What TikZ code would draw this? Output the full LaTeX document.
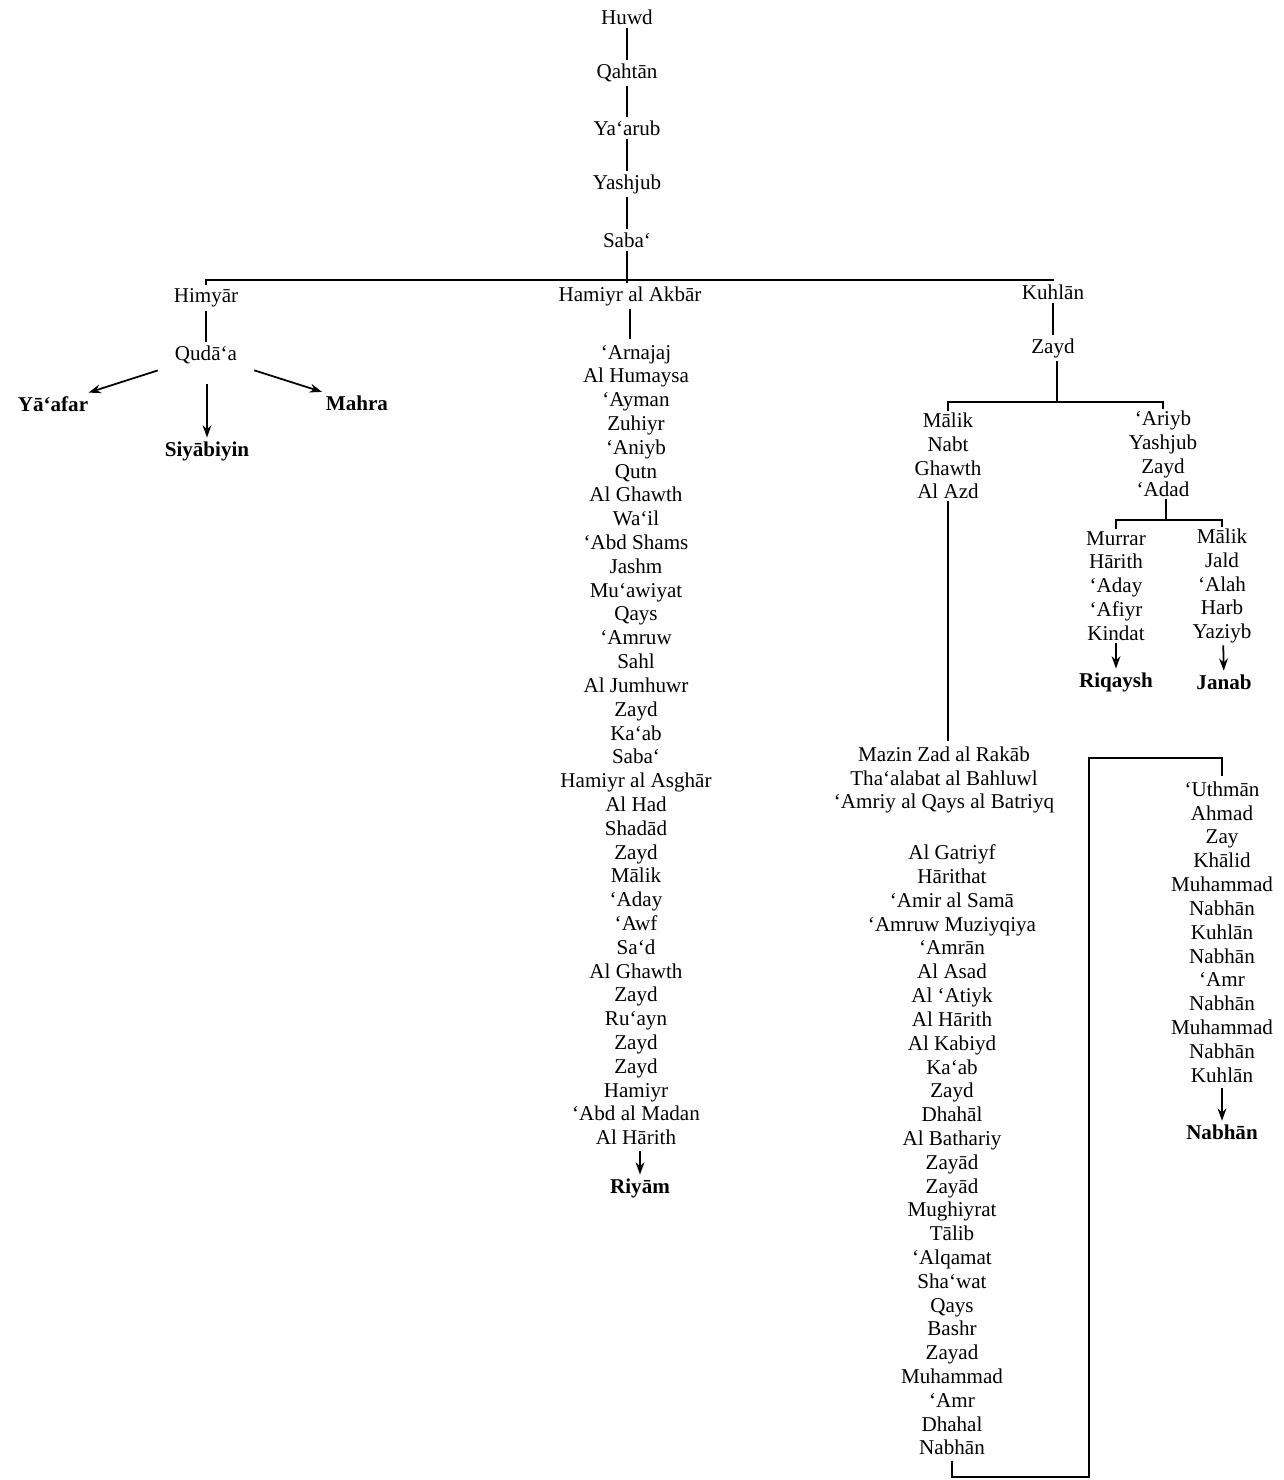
\documentclass[tikz,border=0pt]{standalone}
\usepackage{fontspec}
\setmainfont{Liberation Serif}
\usetikzlibrary{arrows.meta}

\begin{document}
\begin{tikzpicture}[
    x=0.02cm, y=-0.02cm,
    >={Stealth[length=7pt, width=5pt]},
    every node/.style={font=\fontsize{12}{13.55}\selectfont, inner sep=2pt},
    namecol/.style={align=center, inner sep=3pt},
    tribe/.style={font=\fontsize{12}{13.55}\selectfont\bfseries},
    link/.style={line width=1pt},
]
\useasboundingbox (0,0) rectangle (1284,1480);

% ============================================================
% Trunk: Huwd down to Saba`
% ============================================================
\node (huwd)    at (627,17)  {Huwd};
\node (qahtan)  at (627,73)  {Qahtān};
\node (yaarub)  at (627,128) {Ya`arub};
\node (yashjub) at (627,184) {Yashjub};
\node (saba)    at (627,240) {Saba`};
\draw[link] (huwd) -- (qahtan);
\draw[link] (qahtan) -- (yaarub);
\draw[link] (yaarub) -- (yashjub);
\draw[link] (yashjub) -- (saba);

% Three sons of Saba`
\coordinate (sababar) at (627,280);
\node (himyar) at (206,298) {Himyār};
\node (akbar)  at (630,296) {Hamiyr al Akbār};
\node (kuhlan) at (1053,292) {Kuhlān};
\draw[link] (saba) -- (saba |- akbar.north);
\draw[link] (himyar.north) |- (sababar) -| (kuhlan.north);

% ============================================================
% Branch 1: Himyar
% ============================================================
\node (qudaa) at (206,355) {Qudā`a};
\draw[link] (himyar) -- (qudaa);
\node[tribe] (yaafar)    at (53,404)  {Yā`afar};
\node[tribe] (siyabiyin) at (207,451) {Siyābiyin};
\node[tribe] (mahra)     at (357,403) {Mahra};
\draw[link, ->, shorten <=8pt] (qudaa) -- (yaafar);
\draw[link, ->, shorten <=9pt] (siyabiyin |- qudaa.south) -- (siyabiyin);
\draw[link, ->, shorten <=8pt] (qudaa) -- (mahra);

% ============================================================
% Branch 2: Hamiyr al Akbar
% ============================================================
\node[namecol] (akbarlist) at (636,745) {`Arnajaj\\Al Humaysa\\`Ayman\\Zuhiyr\\`Aniyb\\Qutn\\
    Al Ghawth\\Wa`il\\`Abd Shams\\Jashm\\Mu`awiyat\\Qays\\`Amruw\\Sahl\\Al Jumhuwr\\
    Zayd\\Ka`ab\\Saba`\\Hamiyr al Asghār\\Al Had\\Shadād\\Zayd\\Mālik\\`Aday\\`Awf\\
    Sa`d\\Al Ghawth\\Zayd\\Ru`ayn\\Zayd\\Zayd\\Hamiyr\\`Abd al Madan\\Al Hārith};
\draw[link] (akbar) -- (akbar |- akbarlist.north);
\node[tribe] (riyam) at (640,1188) {Riyām};
\draw[link, ->] (riyam |- akbarlist.south) -- (riyam);

% ============================================================
% Branch 3: Kuhlan
% ============================================================
\node (zayd) at (1053,348) {Zayd};
\draw[link] (kuhlan) -- (zayd);
\coordinate (zaydbar) at (1057,402);
\draw[link] (zayd.south -| zaydbar) -- (zaydbar);
\node[namecol, inner sep=1pt] (maliklist) at (948,456) {Mālik\\Nabt\\Ghawth\\Al Azd};
\node[namecol, inner sep=1pt] (ariyblist) at (1163,454) {`Ariyb\\Yashjub\\Zayd\\`Adad};
\draw[link] (maliklist.north) |- (zaydbar) -| (ariyblist.north);

% `Adad and his two lines
\coordinate (adadbar) at (1166,520);
\draw[link] (ariyblist.south -| adadbar) -- (adadbar);
\node[namecol, inner sep=1pt] (murrarlist) at (1116,586) {Murrar\\Hārith\\`Aday\\`Afiyr\\Kindat};
\node[namecol, inner sep=1pt] (jaldlist)   at (1222,586) {Mālik\\Jald\\`Alah\\Harb\\Yaziyb};
\draw[link] (murrarlist.north) |- (adadbar) -| (jaldlist.north);
\node[tribe] (riqaysh) at (1116,682) {Riqaysh};
\node[tribe] (janab)   at (1224,682) {Janab};
\draw[link, ->] (murrarlist) -- (riqaysh);
\draw[link, ->] (jaldlist) -- (janab);

% Al Azd down to Mazin
\node[namecol] (mazinlist) at (944,780) {Mazin Zad al Rakāb\\Tha`alabat al Bahluwl\\`Amriy al Qays al Batriyq};
\draw[link] (maliklist.south) -- (maliklist.south |- mazinlist.north);

\node[namecol] (gatriyflist) at (952,1150) {Al Gatriyf\\Hārithat\\`Amir al Samā\\`Amruw Muziyqiya\\
    `Amrān\\Al Asad\\Al `Atiyk\\Al Hārith\\Al Kabiyd\\Ka`ab\\Zayd\\Dhahāl\\Al Bathariy\\
    Zayād\\Zayād\\Mughiyrat\\Tālib\\`Alqamat\\Sha`wat\\Qays\\Bashr\\Zayad\\Muhammad\\
    `Amr\\Dhahal\\Nabhān};

% Continuation into the right-hand column
\node[namecol] (uthmanlist) at (1222,932) {`Uthmān\\Ahmad\\Zay\\Khālid\\Muhammad\\Nabhān\\
    Kuhlān\\Nabhān\\`Amr\\Nabhān\\Muhammad\\Nabhān\\Kuhlān};
\coordinate (loopbot) at (1089,1477);
\coordinate (looptop) at (1089,758);
\draw[link] (gatriyflist.south) |- (loopbot) -- (looptop) -| (uthmanlist.north);
\node[tribe] (nabhan) at (1222,1132) {Nabhān};
\draw[link, ->] (uthmanlist) -- (nabhan);

\end{tikzpicture}
\end{document}
